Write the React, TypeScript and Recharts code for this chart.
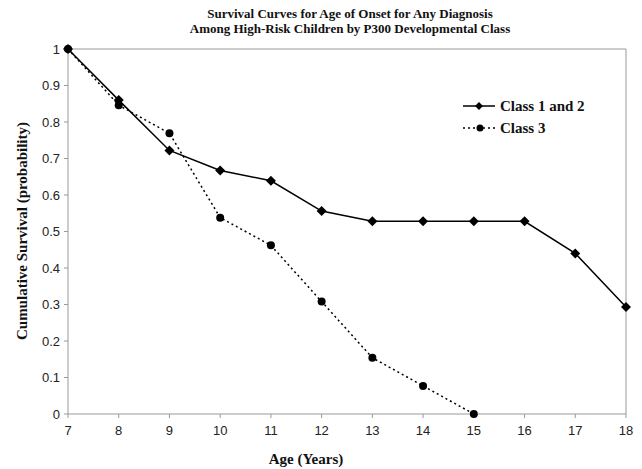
import React from 'react';
import { LineChart, Line, XAxis, YAxis, ReferenceLine } from 'recharts';

const ages = [7, 8, 9, 10, 11, 12, 13, 14, 15, 16, 17, 18];
const class12 = [1, 0.86, 0.722, 0.667, 0.639, 0.556, 0.528, 0.528, 0.528, 0.528, 0.44, 0.293];
const class3: (number | null)[] = [1, 0.846, 0.769, 0.538, 0.462, 0.308, 0.154, 0.077, 0, null, null, null];
const yTicks = [0, 0.1, 0.2, 0.3, 0.4, 0.5, 0.6, 0.7, 0.8, 0.9, 1];
const seriesNames = ['Class 1 and 2', 'Class 3'];
const titleLines = ['Survival Curves for Age of Onset for Any Diagnosis', 'Among High-Risk Children by P300 Developmental Class'];

const data = ages.map((a, i) => ({ age: a, c12: class12[i], c3: class3[i] }));

const Diamond = (props: any) => {
  const { cx, cy } = props;
  if (cx == null || cy == null) return null;
  const s = 5;
  return <polygon points={`${cx},${cy - s} ${cx + s},${cy} ${cx},${cy + s} ${cx - s},${cy}`} fill="#000" />;
};
const Dot = (props: any) => {
  const { cx, cy } = props;
  if (cx == null || cy == null) return null;
  return <circle cx={cx} cy={cy} r={4} fill="#000" />;
};

const serif = '"Liberation Serif", "Times New Roman", serif';
const sans = '"Liberation Sans", Arial, sans-serif';

const LegendBox = () => (
  <svg width={170} height={50} style={{ position: 'absolute', left: 460, top: 95, overflow: 'visible' }}>
    <line x1={3} y1={11} x2={35} y2={11} stroke="#000" strokeWidth={1.5} />
    <polygon points="19,7 23,11 19,15 15,11" fill="#000" />
    <text x={40} y={11} dy="0.35em" fontFamily={serif} fontWeight="bold" fontSize={15} fill="#111">{seriesNames[0]}</text>
    <line x1={3} y1={33} x2={35} y2={33} stroke="#000" strokeWidth={1.5} strokeDasharray="2 3" />
    <circle cx={20} cy={33} r={3.5} fill="#000" />
    <text x={40} y={33} dy="0.35em" fontFamily={serif} fontWeight="bold" fontSize={15} fill="#111">{seriesNames[1]}</text>
  </svg>
);

export default function App() {
  return (
    <div style={{ position: 'absolute', left: 0, top: 0, width: 642, height: 469, background: '#fff' }}>
      <LineChart width={642} height={469} data={data} margin={{ top: 49, right: 16, bottom: 25, left: 8 }}>
        <XAxis
          dataKey="age"
          type="number"
          domain={[7, 18]}
          ticks={ages}
          interval={0}
          height={30}
          stroke="#999"
          tickSize={4}
          tickMargin={8}
          tick={{ fill: '#222', fontFamily: sans, fontSize: 13 }}
          label={{ content: () => <text x={306} y={459} dy="0.35em" textAnchor="middle" fontFamily={serif} fontWeight="bold" fontSize={15} fill="#111">Age (Years)</text> }}
        />
        <YAxis
          type="number"
          domain={[0, 1]}
          ticks={yTicks}
          interval={0}
          width={60}
          stroke="#999"
          tickSize={4}
          tickMargin={4}
          tick={{ fill: '#222', fontFamily: sans, fontSize: 13 }}
          label={{ content: () => <text x={22} y={231} dy="0.35em" textAnchor="middle" transform="rotate(-90, 22, 231)" fontFamily={serif} fontWeight="bold" fontSize={15} fill="#111">Cumulative Survival (probability)</text> }}
        />
        <ReferenceLine y={1} stroke="#999" />
        <ReferenceLine x={18} stroke="#999" />
        <Line dataKey="c12" name={seriesNames[0]} stroke="#000" strokeWidth={1.5} dot={<Diamond />} isAnimationActive={false} connectNulls={false} />
        <Line dataKey="c3" name={seriesNames[1]} stroke="#000" strokeWidth={1.5} strokeDasharray="2 3" dot={<Dot />} isAnimationActive={false} connectNulls={false} />
      </LineChart>
      <div style={{ position: 'absolute', left: 0, top: 6, width: 700, textAlign: 'center', fontFamily: serif, fontWeight: 'bold', fontSize: 13, lineHeight: '15px', color: '#111' }}>
        {titleLines.map((t) => <div key={t}>{t}</div>)}
      </div>
      <LegendBox />
    </div>
  );
}
